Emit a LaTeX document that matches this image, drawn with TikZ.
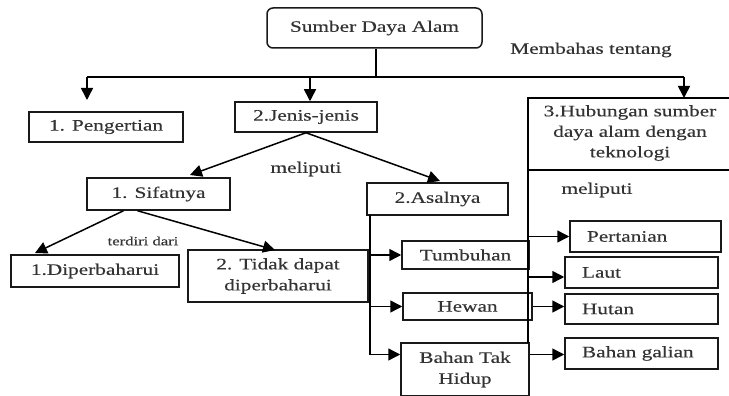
\documentclass[tikz,border=0pt]{standalone}
\usepackage{fontspec}
\setmainfont[FakeStretch=1.33,FakeBold=0.3]{Liberation Serif}
\usetikzlibrary{arrows.meta}
\begin{document}
\begin{tikzpicture}[x=1pt,y=-1pt,
 box/.style={draw=black!90, line width=1.5pt, rectangle, inner sep=0pt, align=center, font=\fontsize{16}{21}\selectfont, text=black!80},
 lbox/.style={box, align=left, inner xsep=17pt, text width=119pt},
 lbl/.style={inner sep=0pt, font=\fontsize{16}{20}\selectfont, text=black!80},
 arr/.style={-{Triangle[length=12pt,width=12pt]}, line width=1.5pt},
 ln/.style={line width=1.5pt}]
\useasboundingbox[fill=white] (0,0) rectangle (729,396);
% nodes
\node[box, rounded corners=6pt, minimum width=215pt, minimum height=40pt] (sda) at (374.5,28) {Sumber Daya Alam};
\node[box, minimum width=154pt, minimum height=30pt] (peng) at (106,127) {1. Pengertian};
\node[box, minimum width=142pt, minimum height=30pt] (jenis) at (306,117) {2.Jenis-jenis};
\node[lbl, align=center, font=\fontsize{16}{20.5}\selectfont] (hub) at (630,133) {3.Hubungan sumber\\daya alam dengan\\teknologi};
\node[box, minimum width=143pt, minimum height=32pt] (sif) at (158.5,194) {1. Sifatnya};
\node[box, minimum width=141pt, minimum height=32pt] (asal) at (437.5,199) {2.Asalnya};
\node[box, minimum width=168pt, minimum height=32pt] (dip) at (95,271) {1.Diperbaharui};
\node[box, minimum width=180pt, minimum height=52pt] (tidak) at (278,276) {2. Tidak dapat\\diperbaharui};
\node[box, minimum width=127pt, minimum height=28pt] (tumb) at (465.5,255) {Tumbuhan};
\node[box, minimum width=129pt, minimum height=27pt] (hewan) at (467.5,306.5) {Hewan};
\node[box, minimum width=128pt, minimum height=53pt] (bahan) at (465,369.5) {Bahan Tak\\Hidup};
\node[lbox, text width=117pt, minimum height=31pt] (pert) at (645.5,236.5) {Pertanian};
\node[lbox, minimum height=31pt] (laut) at (641.5,272.5) {Laut};
\node[lbox, minimum height=30pt] (hutan) at (641.5,309) {Hutan};
\node[lbox, minimum height=31pt] (galian) at (641.5,353.5) {Bahan galian};
% labels
\node[lbl] (memb) at (591,50) {Membahas tentang};
\node[lbl] (mel1) at (306,169) {meliputi};
\node[lbl] (mel2) at (597,190) {meliputi};
\node[lbl, font=\fontsize{12.5}{15}\selectfont] (ter) at (143,241) {terdiri dari};
% box 3 frame
\coordinate (hTL) at (528,98);
\coordinate (hTR) at (729,98);
\coordinate (hDL) at (528,170);
\coordinate (hDR) at (729,170);
\coordinate (hBot) at (528,343);
\draw[ln] (hTR) -- (hTL) -- (hBot);
\draw[ln] (hDL) -- (hDR);
% top bar
\coordinate (barL) at (87,77);
\coordinate (barJ) at (310,77);
\coordinate (barM) at (376,77);
\coordinate (barR) at (684,77);
\coordinate (pengTip) at (87,100);
\draw[ln] (barM |- sda.south) -- (barM);
\draw[ln] (barL) -- (barR);
\draw[arr] (barL) -- (pengTip);
\draw[arr] (barJ) -- (barJ |- jenis.north);
\draw[arr] (barR) -- (barR |- hTL);
% jenis branches
\coordinate (sifTip) at (190,175);
\coordinate (asalTip) at (440,181);
\draw[arr] (jenis.south) -- (sifTip);
\draw[arr] (jenis.south) -- (asalTip);
% sifat branches
\coordinate (dipTip) at (35,253);
\coordinate (tidTip) at (275,250);
\draw[arr] ([xshift=-35pt]sif.south) -- (dipTip);
\draw[arr] ([xshift=-21pt]sif.south) -- (tidTip);
% asal spine
\coordinate (asV) at (370,215);
\coordinate (asB) at (370,354.5);
\draw[ln] (asV) -- (asB);
\draw[arr] (tumb.west -| asV) -- (tumb.west);
\draw[arr] (hewan.west -| asV) -- (hewan.west);
\draw[arr] (asB) -- ([yshift=15pt]bahan.west);
% right arrows
\draw[arr] (pert.west -| hTL) -- (pert.west);
\draw[arr] ([yshift=-4.5pt]laut.west -| hTL) -- ([yshift=-4.5pt]laut.west);
\draw[arr] (hewan.east) -- (hewan.east -| hutan.west);
\draw[arr] ([yshift=15pt]bahan.east) -- ([yshift=15pt]bahan.east -| galian.west);
\end{tikzpicture}
\end{document}
